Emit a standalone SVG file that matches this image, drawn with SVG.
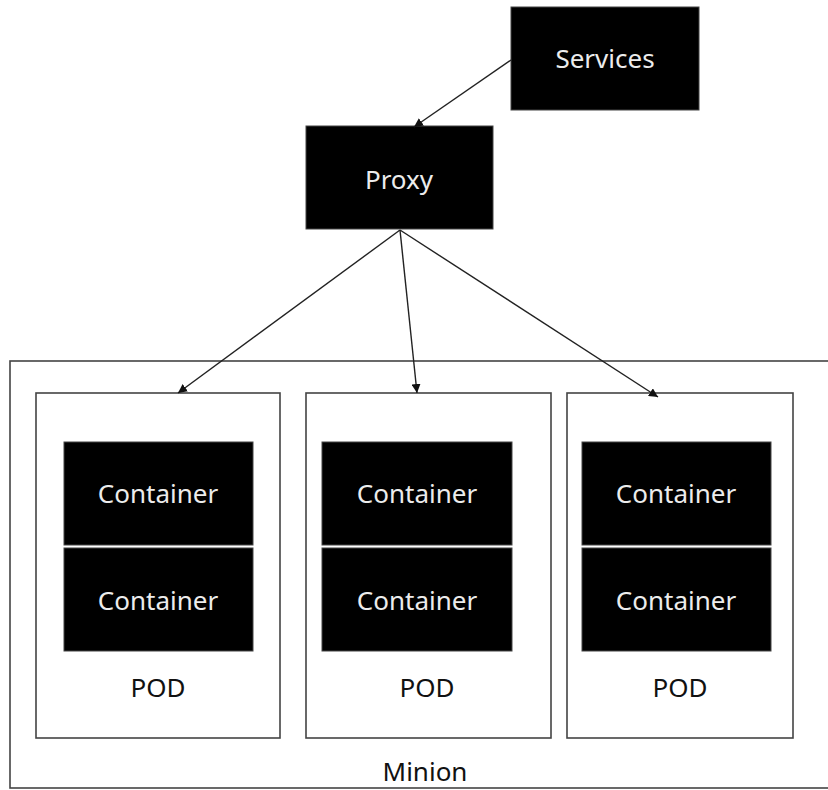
<svg xmlns="http://www.w3.org/2000/svg" width="828" height="790" viewBox="0 0 828 790">
<style>
.box{fill:#000;stroke:#444;stroke-width:1}
.frame{fill:none;stroke:#444;stroke-width:1.6}
.lt{font-family:"Noto Sans","Open Sans",sans-serif;font-size:26px;fill:#ececec;text-anchor:middle}
.dt{font-family:"Noto Sans","Open Sans",sans-serif;font-size:26px;fill:#111;text-anchor:middle}
.conn{stroke:#222;stroke-width:1.4;fill:none;marker-end:url(#ah)}
</style>
<defs>
<marker id="ah" viewBox="0 0 10 10" refX="10" refY="5" markerWidth="9" markerHeight="9" markerUnits="userSpaceOnUse" orient="auto">
<path d="M0,0 L10,5 L0,10 z" fill="#111"/>
</marker>
</defs>
<rect width="828" height="790" fill="#fff"/>
<g id="minion">
<rect class="frame" x="10" y="361" width="830" height="427"/>
<text class="dt" x="425" y="781">Minion</text>
</g>
<g id="services">
<rect class="box" x="511" y="7" width="188" height="103"/>
<text class="lt" x="605" y="68">Services</text>
</g>
<g id="proxy">
<rect class="box" x="306" y="126" width="187" height="103"/>
<text class="lt" x="399" y="189">Proxy</text>
</g>
<g id="pod1">
<rect class="frame" x="36" y="393" width="244" height="345"/>
<text class="dt" x="158" y="697">POD</text>
</g>
<g id="pod1-c1"><rect class="box" x="64" y="442" width="189" height="103"/><text class="lt" x="158" y="503">Container</text></g>
<g id="pod1-c2"><rect class="box" x="64" y="548" width="189" height="103"/><text class="lt" x="158" y="610">Container</text></g>
<g id="pod2">
<rect class="frame" x="306" y="393" width="245" height="345"/>
<text class="dt" x="427" y="697">POD</text>
</g>
<g id="pod2-c1"><rect class="box" x="322" y="442" width="190" height="103"/><text class="lt" x="417" y="503">Container</text></g>
<g id="pod2-c2"><rect class="box" x="322" y="548" width="190" height="103"/><text class="lt" x="417" y="610">Container</text></g>
<g id="pod3">
<rect class="frame" x="567" y="393" width="226" height="345"/>
<text class="dt" x="680" y="697">POD</text>
</g>
<g id="pod3-c1"><rect class="box" x="582" y="442" width="189" height="103"/><text class="lt" x="676" y="503">Container</text></g>
<g id="pod3-c2"><rect class="box" x="582" y="548" width="189" height="103"/><text class="lt" x="676" y="610">Container</text></g>
<g id="connectors">
<line class="conn" x1="511" y1="60" x2="414" y2="127"/>
<line class="conn" x1="400" y1="230" x2="178" y2="393"/>
<line class="conn" x1="400" y1="230" x2="417" y2="393"/>
<line class="conn" x1="400" y1="230" x2="658" y2="397"/>
</g>
</svg>
